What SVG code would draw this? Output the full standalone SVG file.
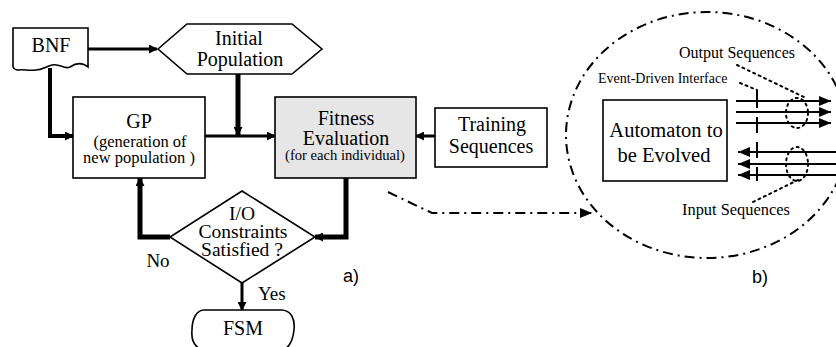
<svg xmlns="http://www.w3.org/2000/svg" width="836" height="347" viewBox="0 0 836 347">
<style>
.box{fill:#fff;stroke:#000;stroke-width:1.6}
.gray{fill:#e6e6e6;stroke:#000;stroke-width:1.6}
.t{font-family:'Liberation Serif','Times New Roman',Tinos,'DejaVu Serif',serif;fill:#000;text-anchor:middle}
.ts{font-family:'Liberation Serif','Times New Roman',Tinos,'DejaVu Serif',serif;fill:#000}
.s{font-family:'Liberation Sans',Arial,sans-serif;fill:#000}
.c{fill:none;stroke:#000;stroke-linejoin:miter}
.dd{fill:none;stroke:#000;stroke-width:2;stroke-dasharray:10 5 2 5}
.dot{fill:none;stroke:#000;stroke-width:2;stroke-dasharray:2 4;stroke-linecap:round}
.io{fill:none;stroke:#000;stroke-width:2}
</style>
<defs>
<marker id="ah" markerUnits="userSpaceOnUse" markerWidth="9" markerHeight="9" refX="8" refY="4.5" orient="auto">
<path d="M0,0 L9,4.5 L0,9 z" fill="#000"/>
</marker>
<marker id="big" markerUnits="userSpaceOnUse" markerWidth="12" markerHeight="10" refX="12" refY="5" orient="auto">
<path d="M0,0 L12,5 L0,10 z" fill="#000"/>
</marker>
</defs>

<g id="connectors">
<path class="c" stroke-width="3" d="M88,49 H157" marker-end="url(#ah)"/>
<path class="c" stroke-width="4" d="M50,68 V136 H73" marker-end="url(#ah)"/>
<path class="c" stroke-width="5" d="M238,74 V135" marker-end="url(#ah)"/>
<path class="c" stroke-width="3" d="M205,136 H275" marker-end="url(#ah)"/>
<path class="c" stroke-width="3" d="M435,136 H416" marker-end="url(#ah)"/>
<path class="c" stroke-width="5" d="M346,178 V237 H315" marker-end="url(#ah)"/>
<path class="c" stroke-width="5" d="M170,237 H140 V178" marker-end="url(#ah)"/>
<path class="c" stroke-width="3" d="M242,283 V310" marker-end="url(#ah)"/>
<path class="dd" d="M388,192 L432,213 H592" marker-end="url(#big)"/>
</g>

<g id="bnf">
<path class="box" d="M13,28 H88 V67 C82,62 76,63 70,67 C64,70 60,63 52,65 C45,67 42,70 36,70 C28,71 24,69 18,70 C16,70 14,69 13,67 Z"/>
<text class="t" x="51" y="52" font-size="20">BNF</text>
</g>

<g id="initial-population">
<path class="box" d="M158,49 L187,24 H292 L322,49 L292,74 H187 Z"/>
<text class="t" x="239" y="45" font-size="20">Initial</text>
<text class="t" x="240" y="66" font-size="20">Population</text>
</g>

<g id="gp">
<rect class="box" x="73" y="97" width="132" height="81"/>
<text class="t" x="139" y="128" font-size="20">GP</text>
<text class="t" x="140" y="147" font-size="16.5">(generation of</text>
<text class="t" x="139" y="163" font-size="16.5">new population )</text>
</g>

<g id="fitness">
<rect class="gray" x="275" y="97" width="141" height="81"/>
<text class="t" x="346" y="125" font-size="20">Fitness</text>
<text class="t" x="346" y="145" font-size="20">Evaluation</text>
<text class="t" x="345" y="160" font-size="14.6">(for each individual)</text>
</g>

<g id="training">
<rect class="box" x="435" y="108" width="112" height="59"/>
<text class="t" x="492" y="131" font-size="20">Training</text>
<text class="t" x="491" y="153" font-size="20">Sequences</text>
</g>

<g id="decision">
<path class="box" d="M242,191 L315,237 L242,283 L170,237 Z"/>
<text class="t" x="242" y="220" font-size="19.5">I/O</text>
<text class="t" x="243" y="238" font-size="19.5">Constraints</text>
<text class="t" x="242" y="256" font-size="19.5">Satisfied ?</text>
</g>

<g id="labels-a">
<text class="t" x="158" y="267" font-size="19">No</text>
<text class="ts" x="258" y="300" font-size="19">Yes</text>
<text class="s" x="343" y="282" font-size="18">a)</text>
</g>

<g id="fsm">
<path class="box" d="M204,310 H281 C292,310 295,320 294,330 C293,340 290,347 283,350 H202 C195,347 191,340 192,330 C192,320 196,310 204,310 Z"/>
<text class="t" x="243" y="335" font-size="20">FSM</text>
</g>

<g id="detail-b">
<ellipse class="dd" cx="707" cy="135" rx="141" ry="123"/>
<g id="automaton">
<rect class="box" x="603" y="100" width="124" height="81"/>
<text class="t" x="666" y="137" font-size="20.5">Automaton to</text>
<text class="t" x="664" y="162" font-size="20.5">be Evolved</text>
</g>
<g id="outputs">
<path class="io" d="M736,101 H831" marker-end="url(#big)"/>
<path class="io" d="M736,112 H831" marker-end="url(#big)"/>
<path class="io" d="M736,123 H831" marker-end="url(#big)"/>
<path class="io" d="M757,90 V108 M757,117 V133"/>
</g>
<g id="inputs">
<path class="io" d="M836,152 H738" marker-end="url(#big)"/>
<path class="io" d="M836,164 H738" marker-end="url(#big)"/>
<path class="io" d="M836,175 H738" marker-end="url(#big)"/>
<path class="io" d="M757,142 V158 M757,167 V181"/>
</g>
<path class="dot" d="M740,83 L757,90"/>
<path class="dot" d="M737,65 L806,98"/>
<ellipse class="dot" cx="797" cy="113" rx="11" ry="15"/>
<ellipse class="dot" cx="797" cy="164" rx="11" ry="17"/>
<path class="dot" d="M798,180 L753,202"/>
<text class="ts" x="679" y="58" font-size="16">Output Sequences</text>
<text class="ts" x="598" y="83" font-size="14">Event-Driven Interface</text>
<text class="ts" x="682" y="215" font-size="16.4">Input Sequences</text>
<text class="s" x="752" y="283" font-size="18">b)</text>
</g>
</svg>
